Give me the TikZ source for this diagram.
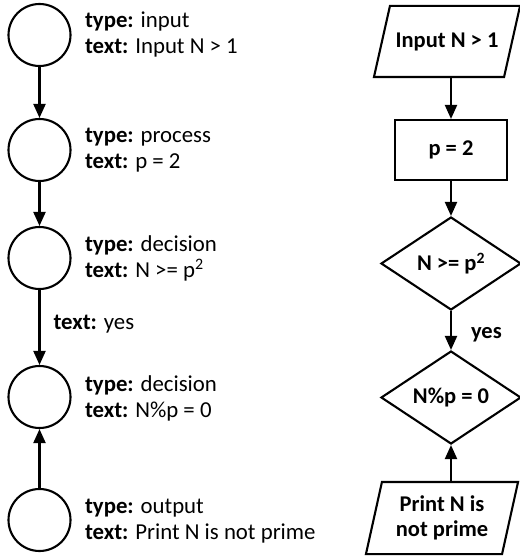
\documentclass[tikz,border=0pt]{standalone}
\usepackage{fontspec}
\setmainfont{Carlito}
\usetikzlibrary{arrows.meta,shapes.geometric}
\begin{document}
\begin{tikzpicture}[x=1pt,y=-1pt,
  line width=2.1pt,
  every node/.style={font=\fontsize{22.8}{26}\selectfont},
  state/.style={circle, draw, minimum size=62pt, inner sep=0pt},
  info/.style={anchor=west, align=left, inner sep=0pt},
  flow/.style={-{Triangle[length=14pt,width=12pt]}},
  iobody/.style={rectangle, inner sep=0pt, align=center,
    font=\bfseries\fontsize{22.5}{25}\selectfont},
  proc/.style={rectangle, draw, minimum width=112pt, minimum height=60pt,
    font=\bfseries\fontsize{22.5}{26}\selectfont},
  test/.style={diamond, draw, aspect=1.5, inner sep=0pt, minimum width=140pt,
    minimum height=93pt, font=\bfseries\fontsize{22.5}{26}\selectfont}
]
\useasboundingbox (0,0) rectangle (519,559);

% left column: graph of node records
\node[state] (c1) at (39.5,35) {};
\node[state] (c2) at (39.5,150) {};
\node[state] (c3) at (39.5,258) {};
\node[state] (c4) at (39.5,397) {};
\node[state] (c5) at (39.5,520) {};

\node[info] (l1) at (84,34) {\textbf{type:} input\\\textbf{text:} Input N > 1};
\node[info] (l2) at (84,150) {\textbf{type:} process\\\textbf{text:} p = 2};
\node[info] (l3) at (84,258) {\textbf{type:} decision\\\textbf{text:} N >= p\textsuperscript{2}};
\node[info] (l4) at (84,398) {\textbf{type:} decision\\\textbf{text:} N\%p = 0};
\node[info] (l5) at (84,521) {\textbf{type:} output\\\textbf{text:} Print N is not prime};

\draw[flow] (c1) -- (c2);
\draw[flow] (c2) -- (c3);
\draw[flow] (c3) -- node[info, pos=0.45, xshift=13pt] (ly) {\textbf{text:} yes} (c4);
\draw[flow] (c5) -- (c4);

% right column: the flowchart itself
\node[iobody, minimum width=128pt, minimum height=69pt] (inp) at (447,41.5) {Input N > 1};
\draw ([xshift=-8pt]inp.south west) -- ([xshift=-8pt]inp.south east)
  -- ([xshift=8pt]inp.north east) -- ([xshift=8pt]inp.north west) -- cycle;
\node[proc] (setp) at (451,150) {p = 2};
\node[test] (d1) at (451,263.5) {N >= p\textsuperscript{2}};
\node[test] (d2) at (451,397.5) {N\%p = 0};
\node[iobody, minimum width=134pt, minimum height=70pt] (outp) at (442,518) {Print N is\\not prime};
\draw ([xshift=-8pt]outp.south west) -- ([xshift=-8pt]outp.south east)
  -- ([xshift=8pt]outp.north east) -- ([xshift=8pt]outp.north west) -- cycle;

\draw[flow] (inp.south -| setp.north) -- (setp.north);
\draw[flow] (setp) -- (d1);
\draw[flow] (d1) -- node[anchor=west, inner sep=0pt, xshift=19pt, pos=0.6,
  font=\bfseries\fontsize{22.5}{26}\selectfont] (ry) {yes} (d2);
\draw[flow] (outp.north -| d2.south) -- (d2.south);
\end{tikzpicture}
\end{document}
